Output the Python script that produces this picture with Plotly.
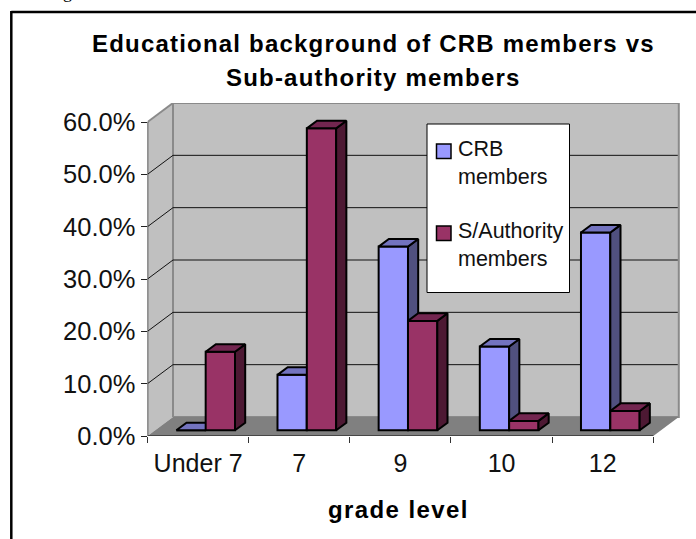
import plotly.graph_objects as go

# Chart data (percent of members per grade level)
categories = ["Under 7", "7", "9", "10", "12"]
crb_members = [0.0, 10.6, 35.1, 16.0, 37.8]
authority_members = [15.0, 57.7, 20.9, 1.8, 3.7]
percent_ticks = [0, 10, 20, 30, 40, 50, 60]
percent_labels = ["0.0%", "10.0%", "20.0%", "30.0%", "40.0%", "50.0%", "60.0%"]

W, H = 696, 539
# Front plane of the 3-D box, page pixels
LEFT, RIGHT, BOTTOM, TOP60 = 147.5, 653.3, 436.0, 122.0
PLOT_RIGHT, PLOT_TOP = 681.0, 103.0
PX_PER_CAT = (RIGHT - LEFT) / 5
PX_PER_PCT = (BOTTOM - TOP60) / 60

# Depth of the box and of the bars, in axis units
WALL_DX, WALL_DY = 25.5 / PX_PER_CAT, 19.0 / PX_PER_PCT
BAR_FRONT = 0.30
BAR_DEPTH = 0.40
BAR_W = 0.29
GROUP_LEFT = 0.285

x_max = (PLOT_RIGHT - LEFT) / PX_PER_CAT
y_max = (BOTTOM - PLOT_TOP) / PX_PER_PCT
x_domain = [LEFT / W, PLOT_RIGHT / W]
y_domain = [1 - BOTTOM / H, 1 - PLOT_TOP / H]

WALL, FLOOR, EDGE = "#C0C0C0", "#808080", "#8A8A8A"
INK = "#111111"


def poly(points):
    xs, ys = zip(*points)
    return list(xs) + [xs[0]], list(ys) + [ys[0]]


def face_trace(faces, color, axes):
    xs, ys = [], []
    for pts in faces:
        px, py = poly(pts)
        xs += px + [None]
        ys += py + [None]
    return go.Scatter(x=xs, y=ys, mode="lines", fill="toself", fillcolor=color,
                      line=dict(color="black", width=2), hoverinfo="skip",
                      showlegend=False, xaxis=axes[0], yaxis=axes[1])


def series_traces(name, values, slot, front, top, side, axes):
    lift = BAR_FRONT * WALL_DY
    ddx, ddy = BAR_DEPTH * WALL_DX, BAR_DEPTH * WALL_DY
    lefts = [i + GROUP_LEFT + slot * BAR_W for i in range(len(values))]
    bar = go.Bar(x=[l + BAR_W / 2 for l in lefts], y=values, base=lift, width=BAR_W,
                 name=name, marker=dict(color=front, line=dict(color="black", width=2)),
                 showlegend=False, xaxis=axes[0], yaxis=axes[1])
    tops, sides = [], []
    for l, v in zip(lefts, values):
        r = l + BAR_W
        t = v + lift
        tops.append([(l, t), (r, t), (r + ddx, t + ddy), (l + ddx, t + ddy)])
        sides.append([(r, lift), (r + ddx, lift + ddy), (r + ddx, t + ddy), (r, t)])
    return [bar, face_trace(sides, side, axes), face_trace(tops, top, axes)]


fig = go.Figure()

# Box: side wall, back wall, floor
side_wall = [(0, 0), (WALL_DX, WALL_DY), (WALL_DX, 60 + WALL_DY), (0, 60)]
fig.add_trace(go.Scatter(x=poly(side_wall)[0], y=poly(side_wall)[1], mode="lines", fill="toself",
                         fillcolor=WALL, line=dict(width=0), hoverinfo="skip", showlegend=False))
back = [(WALL_DX, WALL_DY), (5 + WALL_DX, WALL_DY), (5 + WALL_DX, 60 + WALL_DY), (WALL_DX, 60 + WALL_DY)]
fig.add_trace(go.Scatter(x=poly(back)[0], y=poly(back)[1], mode="lines", fill="toself",
                         fillcolor=WALL, line=dict(color=EDGE, width=2), hoverinfo="skip",
                         showlegend=False))
floor = [(0, 0), (5, 0), (5 + WALL_DX, WALL_DY), (WALL_DX, WALL_DY)]
fig.add_trace(go.Scatter(x=poly(floor)[0], y=poly(floor)[1], mode="lines", fill="toself",
                         fillcolor=FLOOR, line=dict(width=0), hoverinfo="skip",
                         showlegend=False))

# Gridlines run along the side wall and across the back wall
gx, gy = [], []
for v in percent_ticks[1:-1]:
    gx += [0, WALL_DX, 5 + WALL_DX - 0.01, None]
    gy += [v, v + WALL_DY, v + WALL_DY, None]
fig.add_trace(go.Scatter(x=gx, y=gy, mode="lines", line=dict(color=INK, width=1),
                         hoverinfo="skip", showlegend=False))
fig.add_trace(go.Scatter(x=[0, WALL_DX], y=[60, 60 + WALL_DY], mode="lines",
                         line=dict(color=EDGE, width=2), hoverinfo="skip", showlegend=False))
# Axis lines of the front plane
fig.add_trace(go.Scatter(x=[0, 0, 5], y=[60, 0, 0], mode="lines",
                         line=dict(color="#333333", width=1.5), hoverinfo="skip",
                         showlegend=False))

# Second series sits on overlaid axes so it stacks over the first one's side faces
for tr in series_traces("CRB members", crb_members, 0, "#9999FF", "#7373BF", "#50507F", ("x2", "y2")):
    fig.add_trace(tr)
for tr in series_traces("S/Authority members", authority_members, 1, "#993366", "#732650", "#4D1933", ("x3", "y3")):
    fig.add_trace(tr)

hidden = dict(range=[0, x_max], domain=x_domain, visible=False, fixedrange=True)
hidden_y = dict(range=[0, y_max], domain=y_domain, visible=False, fixedrange=True)

fig.update_layout(
    width=W, height=H, autosize=False,
    margin=dict(l=0, r=0, t=0, b=0),
    paper_bgcolor="white", plot_bgcolor="rgba(0,0,0,0)",
    barmode="overlay", showlegend=False,
    font=dict(family="Liberation Sans", color="#111111"),
    xaxis=dict(range=[0, x_max], domain=x_domain, showgrid=False, zeroline=False, automargin=False,
               tickmode="array", tickvals=[i + 0.5 for i in range(5)], ticktext=categories,
               ticks="", tickfont=dict(size=25), ticklabelstandoff=10,
               minor=dict(tickmode="array", tickvals=list(range(6)), ticks="outside",
                          ticklen=6, tickcolor="#333333", tickwidth=1, showgrid=False)),
    yaxis=dict(range=[0, y_max], domain=y_domain, showgrid=False, zeroline=False, automargin=False,
               tickmode="array", tickvals=percent_ticks, ticktext=percent_labels,
               ticks="outside", ticklen=6, tickcolor="#222222", tickwidth=1,
               tickfont=dict(size=25.5), ticklabelstandoff=0),
    xaxis2=dict(hidden, overlaying="x", anchor="y2"),
    yaxis2=dict(hidden_y, overlaying="y", anchor="x2"),
    xaxis3=dict(hidden, overlaying="x", anchor="y3"),
    yaxis3=dict(hidden_y, overlaying="y", anchor="x3"),
)

shapes = [
    # Chart frame, cut off by the page on the right and at the bottom
    dict(type="line", xref="paper", yref="paper", x0=11.3 / W, x1=1.0, y0=1 - 12 / H, y1=1 - 12 / H,
         line=dict(color="black", width=2.5)),
    dict(type="line", xref="paper", yref="paper", x0=11.3 / W, x1=11.3 / W, y0=0, y1=1 - 11 / H,
         line=dict(color="black", width=2.5)),
]
# Legend panel
LEG = (427, 569.5, 124, 292.5)
shapes.append(dict(type="rect", xref="paper", yref="paper", x0=LEG[0] / W, x1=LEG[1] / W,
                   y0=1 - LEG[3] / H, y1=1 - LEG[2] / H, fillcolor="white",
                   line=dict(color="black", width=1), layer="above"))
for top_px, colour in ((144, "#9999FF"), (226, "#993366")):
    shapes.append(dict(type="rect", xref="paper", yref="paper", x0=436.5 / W, x1=451 / W,
                       y0=1 - (top_px + 14.5) / H, y1=1 - top_px / H, fillcolor=colour,
                       line=dict(color="black", width=1.5), layer="above"))
fig.update_layout(shapes=shapes)

legend_lines = [("CRB", 149), ("members", 177), ("S/Authority", 231), ("members", 259)]
for text, mid in legend_lines:
    fig.add_annotation(text=text, xref="paper", yref="paper", x=456 / W, y=1 - mid / H,
                       xanchor="left", yanchor="middle", showarrow=False,
                       font=dict(size=21.5, color="#111111", family="Liberation Sans"))

# Heading and axis caption are spaced out a little wider than the font's default
HEADING = "letter-spacing:1.2px"
for text, cx, cy, spacing in (("Educational background of CRB members vs", 373.5, 43.5, HEADING),
                              ("Sub-authority members", 373.5, 78, HEADING),
                              ("grade level", 398.5, 509, "letter-spacing:1.4px")):
    fig.add_annotation(text=f'<b><span style="{spacing}">{text}</span></b>', xref="paper", yref="paper",
                       x=cx / W, y=1 - cy / H, xanchor="center", yanchor="middle", showarrow=False,
                       font=dict(size=24, color="black", family="Liberation Sans"))

# Tail of the line of body text above the chart, cut off by the page edge
fig.add_annotation(text="g", xref="paper", yref="paper", x=67.5 / W, y=1 + 8 / H,
                   xanchor="center", yanchor="middle", showarrow=False,
                   font=dict(size=18, color="black", family="Liberation Serif"))

fig.write_html("out.html")
